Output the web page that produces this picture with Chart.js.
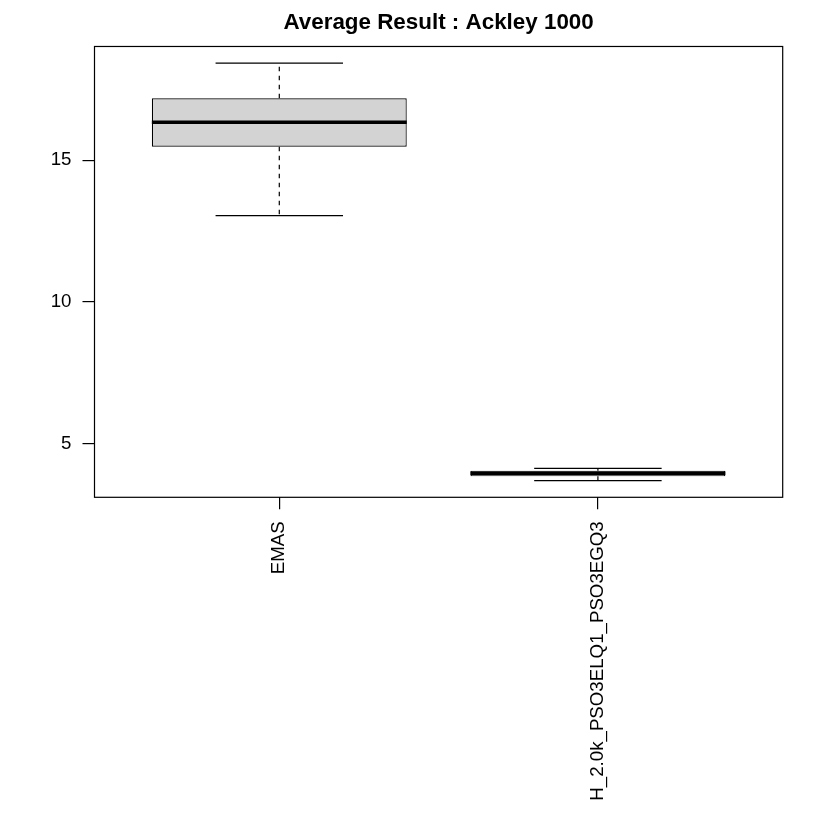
<!DOCTYPE html>
<html><head><meta charset="utf-8">
<script src="https://cdn.jsdelivr.net/npm/chart.js@4/dist/chart.umd.min.js"></script>
<style>html,body{margin:0;padding:0;background:#fff}#wrap{width:830px;height:830px}</style>
</head><body><div id="wrap"><canvas id="c" width="830" height="830"></canvas></div>
<script>
const categories = ["EMAS", "H_2.0k_PSO3ELQ1_PSO3EGQ3"];
const whiskerLow = [13.04, 3.69];
const q1 = [15.47, 3.84];
const median = [16.34, 3.95];
const q3 = [17.18, 4.04];
const whiskerHigh = [18.42, 4.12];
const yTicks = [5, 10, 15];
const titleText = "Average Result : Ackley 1000";

const FAMILY = '"Liberation Sans", Arial, Helvetica, sans-serif';

const boxPlugin = {
  id: 'boxParts',
  beforeDatasetsDraw(chart) {
    const ctx = chart.ctx, xs = chart.scales.x, ys = chart.scales.y;
    ctx.save();
    ctx.strokeStyle = '#000';
    ctx.lineWidth = 1.2;
    categories.forEach((c, i) => {
      const x = xs.getPixelForValue(i + 1);
      const capL = xs.getPixelForValue(i + 1 - 0.2), capR = xs.getPixelForValue(i + 1 + 0.2);
      ctx.setLineDash([4.5, 4.5]);
      ctx.beginPath();
      ctx.moveTo(x, ys.getPixelForValue(q3[i])); ctx.lineTo(x, ys.getPixelForValue(whiskerHigh[i]));
      ctx.moveTo(x, ys.getPixelForValue(q1[i])); ctx.lineTo(x, ys.getPixelForValue(whiskerLow[i]));
      ctx.stroke();
      ctx.setLineDash([]);
      ctx.beginPath();
      ctx.moveTo(capL, ys.getPixelForValue(whiskerHigh[i])); ctx.lineTo(capR, ys.getPixelForValue(whiskerHigh[i]));
      ctx.moveTo(capL, ys.getPixelForValue(whiskerLow[i])); ctx.lineTo(capR, ys.getPixelForValue(whiskerLow[i]));
      ctx.stroke();
    });
    ctx.restore();
  },
  afterDatasetsDraw(chart) {
    const ctx = chart.ctx, xs = chart.scales.x, ys = chart.scales.y, a = chart.chartArea;
    ctx.save();
    ctx.strokeStyle = '#000';
    ctx.lineWidth = 3.5;
    categories.forEach((c, i) => {
      const l = xs.getPixelForValue(i + 1 - 0.4), r = xs.getPixelForValue(i + 1 + 0.4);
      const y = ys.getPixelForValue(median[i]);
      ctx.beginPath(); ctx.moveTo(l, y); ctx.lineTo(r, y); ctx.stroke();
    });
    ctx.lineWidth = 1.2;
    ctx.strokeRect(a.left, a.top, a.right - a.left, a.bottom - a.top);
    ctx.restore();
  }
};

new Chart(document.getElementById('c'), {
  type: 'bar',
  data: {
    datasets: [{
      data: categories.map((c, i) => ({ x: i + 1, y: [q1[i], q3[i]] })),
      backgroundColor: '#d3d3d3',
      borderColor: '#000',
      borderWidth: 1.2,
      borderSkipped: false,
      barPercentage: 0.8,
      categoryPercentage: 1.0
    }]
  },
  options: {
    responsive: false,
    animation: false,
    devicePixelRatio: 1,
    layout: { padding: { left: 0, right: 47.3, top: 0, bottom: 0 } },
    plugins: {
      legend: { display: false },
      tooltip: { enabled: false },
      title: {
        display: true, text: titleText, fullSize: false,
        color: '#000',
        font: { size: 22.4, weight: 'bold', family: FAMILY },
        padding: { top: 9, bottom: 10.6 }
      }
    },
    scales: {
      x: {
        type: 'linear', min: 0.42, max: 2.58, offset: false,
        afterBuildTicks: s => { s.ticks = [1, 2].map(v => ({ value: v })); },
        afterFit: s => { s.height = 332.7; },
        ticks: {
          callback: v => categories[Math.round(v) - 1],
          minRotation: 90, maxRotation: 90, autoSkip: false,
          color: '#000', padding: 12,
          font: { size: 18.7, family: FAMILY }
        },
        grid: { offset: false, drawOnChartArea: false, drawTicks: true, tickLength: 12, color: '#000', lineWidth: 1.2 },
        border: { display: false }
      },
      y: {
        min: 3.1, max: 19.01,
        afterBuildTicks: s => { s.ticks = yTicks.map(v => ({ value: v })); },
        afterFit: s => { s.width = 94.5; },
        ticks: { color: '#000', padding: 11, font: { size: 18.7, family: FAMILY } },
        grid: { drawOnChartArea: false, drawTicks: true, tickLength: 12, color: '#000', lineWidth: 1.2 },
        border: { display: false }
      }
    }
  },
  plugins: [boxPlugin]
});
</script></body></html>
